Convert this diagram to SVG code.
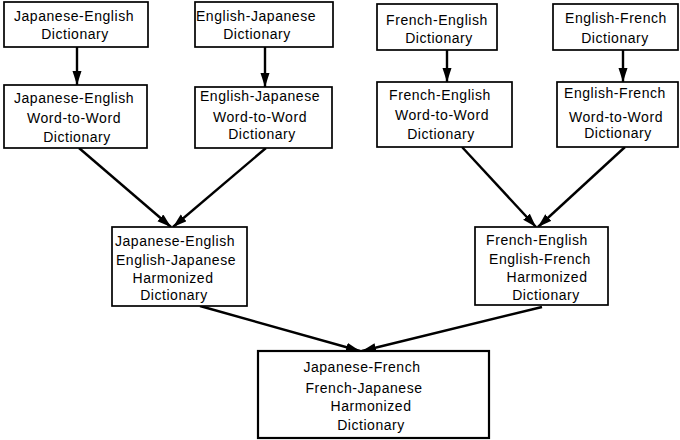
<svg xmlns="http://www.w3.org/2000/svg" width="680" height="440" viewBox="0 0 680 440">
<style>
.box{fill:#fff;stroke:#000;stroke-width:1.7}
text{font-family:"Liberation Sans",Arial,Helvetica,sans-serif;font-size:14px;letter-spacing:0.55px;fill:#000;text-anchor:middle}
.edge{stroke:#000;stroke-width:2.4;fill:none;marker-end:url(#ah)}
</style>
<defs>
<marker id="ah" markerUnits="userSpaceOnUse" markerWidth="15" markerHeight="10" refX="14" refY="4.5" orient="auto">
<path d="M0,0 L14,4.5 L0,9 z" fill="#000"/>
</marker>
</defs>
<rect width="680" height="440" fill="#fff"/>
<g id="connectors">
<line class="edge" x1="77" y1="47" x2="77" y2="85"/>
<line class="edge" x1="265" y1="47" x2="265" y2="87"/>
<line class="edge" x1="447" y1="50" x2="447" y2="82"/>
<line class="edge" x1="623" y1="50" x2="623" y2="82"/>
<line class="edge" x1="79" y1="148" x2="171" y2="227"/>
<line class="edge" x1="266" y1="148" x2="173" y2="227"/>
<line class="edge" x1="462" y1="147" x2="536" y2="227"/>
<line class="edge" x1="625" y1="147" x2="538" y2="227"/>
<line class="edge" x1="200" y1="306" x2="360" y2="351"/>
<line class="edge" x1="542" y1="307" x2="362" y2="351"/>
</g>
<g id="je-dict">
<rect class="box" x="4" y="2" width="144" height="45"/>
<text x="74" y="21">Japanese-English</text>
<text x="75" y="39">Dictionary</text>
</g>
<g id="ej-dict">
<rect class="box" x="195" y="2" width="138" height="45"/>
<text x="256" y="21">English-Japanese</text>
<text x="257" y="39">Dictionary</text>
</g>
<g id="fe-dict">
<rect class="box" x="377" y="4" width="120" height="46"/>
<text x="437" y="25">French-English</text>
<text x="439" y="43">Dictionary</text>
</g>
<g id="ef-dict">
<rect class="box" x="553" y="4" width="125" height="46"/>
<text x="616" y="23">English-French</text>
<text x="615" y="43">Dictionary</text>
</g>
<g id="je-w2w">
<rect class="box" x="4" y="85" width="143" height="63"/>
<text x="74" y="103">Japanese-English</text>
<text x="74" y="123">Word-to-Word</text>
<text x="77" y="142">Dictionary</text>
</g>
<g id="ej-w2w">
<rect class="box" x="195" y="87" width="137" height="61"/>
<text x="260" y="101">English-Japanese</text>
<text x="260" y="122">Word-to-Word</text>
<text x="262" y="139">Dictionary</text>
</g>
<g id="fe-w2w">
<rect class="box" x="377" y="82" width="135" height="65"/>
<text x="440" y="100">French-English</text>
<text x="442" y="120">Word-to-Word</text>
<text x="441" y="139">Dictionary</text>
</g>
<g id="ef-w2w">
<rect class="box" x="557" y="82" width="121" height="65"/>
<text x="615" y="98">English-French</text>
<text x="616" y="122">Word-to-Word</text>
<text x="618" y="138">Dictionary</text>
</g>
<g id="je-harm">
<rect class="box" x="112" y="227" width="135" height="79"/>
<text x="175" y="246">Japanese-English</text>
<text x="176" y="265">English-Japanese</text>
<text x="173" y="283">Harmonized</text>
<text x="174" y="300">Dictionary</text>
</g>
<g id="fe-harm">
<rect class="box" x="475" y="227" width="133" height="78"/>
<text x="537" y="245">French-English</text>
<text x="540" y="264">English-French</text>
<text x="547" y="282">Harmonized</text>
<text x="546" y="300">Dictionary</text>
</g>
<g id="jf-harm">
<rect class="box" x="258" y="351" width="231" height="87" style="stroke-width:2.2"/>
<text x="362" y="372">Japanese-French</text>
<text x="364" y="393">French-Japanese</text>
<text x="371" y="411">Harmonized</text>
<text x="371" y="430">Dictionary</text>
</g>
</svg>
